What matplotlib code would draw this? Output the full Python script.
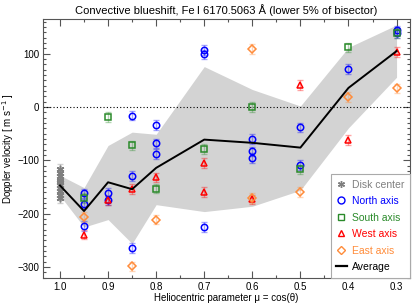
import matplotlib
matplotlib.use("Agg")
import matplotlib.pyplot as plt
from matplotlib.lines import Line2D
from matplotlib.ticker import MultipleLocator
import numpy as np

plt.rcParams['font.family'] = ['Liberation Sans', 'DejaVu Sans']

# ---- data ----
avg_mu = [1.0, 0.95, 0.9, 0.85, 0.8, 0.7, 0.6, 0.5, 0.4, 0.3]
avg_v = [-147, -195, -141, -154, -114, -61, -67, -76, 36, 105]
band_upper = [-128, -151, -72, -47, -51, 76, 33, 2, 112, 154]
band_lower = [-166, -225, -211, -256, -183, -196, -186, -156, -39, 56]

disk_mu = [1.0] * 10
disk_v = [-117, -124, -130, -136, -141, -146, -152, -158, -164, -170]

north_mu = [0.95, 0.95, 0.95, 0.9, 0.9, 0.85, 0.85, 0.85, 0.8, 0.8, 0.8,
            0.7, 0.7, 0.7, 0.6, 0.6, 0.6, 0.5, 0.5, 0.4, 0.3, 0.3]
north_v = [-162, -181, -223, -161, -175, -16, -129, -264, -34, -68, -88,
           107, 99, -225, -60, -83, -95, -38, -109, 72, 144, 139]

south_mu = [0.95, 0.9, 0.85, 0.8, 0.7, 0.6, 0.5, 0.4, 0.3]
south_v = [-170, -19, -72, -153, -79, 0, -117, 112, 139]

west_mu = [0.95, 0.9, 0.85, 0.8, 0.7, 0.7, 0.6, 0.5, 0.4, 0.3]
west_v = [-239, -175, -154, -132, -105, -159, -173, 41, -62, 103]

east_mu = [0.95, 0.85, 0.8, 0.6, 0.6, 0.5, 0.4, 0.3]
east_v = [-206, -299, -211, 109, -170, -159, 19, 35]

x_ticks = [1.0, 0.9, 0.8, 0.7, 0.6, 0.5, 0.4, 0.3]
x_ticklabels = ['1.0', '0.9', '0.8', '0.7', '0.6', '0.5', '0.4', '0.3']
y_ticks = [-300, -200, -100, 0, 100]

# ---- styling ----
c_grey = '#7f7f7f'
c_blue = '#0000ff'
c_green = '#2a8a2a'
c_red = '#ff0000'
c_orange = '#ff8c3a'

fig = plt.figure(figsize=(4.15, 3.06), dpi=100)
ax = fig.add_axes([0.104, 0.0925, 0.884, 0.845])

ax.fill_between(avg_mu, band_lower, band_upper, color='#d3d3d3', lw=0, zorder=1)
ax.axhline(0, color='black', ls=(0, (1, 2)), lw=0.8, zorder=2)
ax.plot(avg_mu, avg_v, color='black', lw=1.4, zorder=5)

def series(mu, v, color, marker, ms, err=9):
    ax.errorbar(mu, v, yerr=err, fmt='none', ecolor=color, alpha=0.35,
                elinewidth=1.0, capsize=2.5, capthick=1.0, zorder=3)
    ax.plot(mu, v, ls='none', marker=marker, ms=ms, mfc='none', mec=color,
            mew=1.1, zorder=4)

series(disk_mu, disk_v, c_grey, (6, 2, 0), 5.5, err=10)
series(north_mu, north_v, c_blue, 'o', 4.6)
series(south_mu, south_v, c_green, 's', 4.4)
series(west_mu, west_v, c_red, '^', 5)
series(east_mu, east_v, c_orange, 'D', 3.6)

ax.set_xlim(1.035, 0.272)
ax.set_ylim(-320, 165)
ax.set_xticks(x_ticks)
ax.set_xticklabels(x_ticklabels)
ax.set_yticks(y_ticks)
ax.xaxis.set_minor_locator(MultipleLocator(0.05))
ax.yaxis.set_minor_locator(MultipleLocator(10))
ax.tick_params(which='both', direction='in', top=True, right=True,
               labelsize=7, colors='#555555', labelcolor='black', width=0.8)
ax.tick_params(which='major', length=5, pad=3)
ax.tick_params(which='minor', length=2.5)
for s in ax.spines.values():
    s.set_color('#555555')
    s.set_linewidth(0.8)

ax.set_xlabel('Heliocentric parameter μ = cos(θ)', fontsize=7, labelpad=1)
ax.set_ylabel('Doppler velocity [ m s$^{-1}$ ]', fontsize=7, labelpad=1)
ax.set_title('Convective blueshift, Fe\u2009I 6170.5063 Å (lower 5% of bisector)',
             fontsize=8, pad=4)

handles = [
    Line2D([], [], ls='none', marker=(6, 2, 0), ms=5, mec=c_grey, mfc='none', mew=1.0),
    Line2D([], [], ls='none', marker='o', ms=5, mec=c_blue, mfc='none', mew=1.0),
    Line2D([], [], ls='none', marker='s', ms=5, mec=c_green, mfc='none', mew=1.0),
    Line2D([], [], ls='none', marker='^', ms=5, mec=c_red, mfc='none', mew=1.0),
    Line2D([], [], ls='none', marker='D', ms=4, mec=c_orange, mfc='none', mew=1.0),
    Line2D([], [], color='black', lw=1.6),
]
labels = ['Disk center', 'North axis', 'South axis', 'West axis', 'East axis', 'Average']
leg = ax.legend(handles, labels, loc='lower right', fontsize=7.5, frameon=True,
                fancybox=False, edgecolor='#aaaaaa', framealpha=1,
                borderaxespad=0, handlelength=1.0, handletextpad=0.5,
                labelspacing=0.62, borderpad=0.55)
leg.get_frame().set_linewidth(0.8)
for txt, col in zip(leg.get_texts(), [c_grey, c_blue, c_green, c_red, c_orange, 'black']):
    txt.set_color(col)

fig.savefig('out.png', dpi=100)
